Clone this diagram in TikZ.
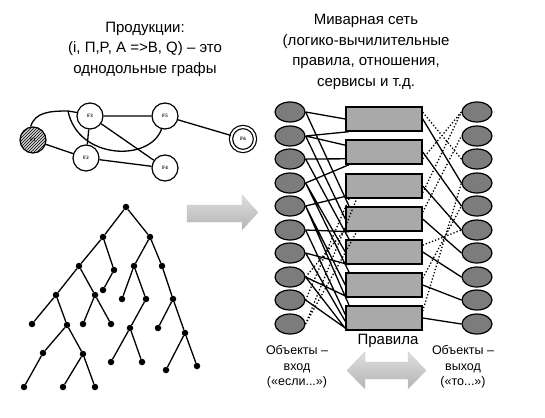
\documentclass[tikz,border=0pt]{standalone}
\usepackage{fontspec}
\setmainfont{Liberation Sans}
\newfontfamily\flabel{Liberation Serif}
\usepackage{tikz}
\usetikzlibrary{calc,shapes.geometric,patterns,positioning}

\definecolor{objgray}{HTML}{7C7C7C}
\definecolor{rulegray}{HTML}{A9A9A9}

\begin{document}
\begin{tikzpicture}[x=1pt,y=-1pt]
    \tikzset{vert/.style = {circle, draw, line width=1.2pt, fill=white,
        minimum size=26pt, inner sep=0pt,
        font=\flabel\bfseries\fontsize{5}{6}\selectfont},
      dot/.style = {circle, fill=black, inner sep=0pt, minimum size=6.5pt},
      obj/.style = {ellipse, draw, line width=1.2pt, fill=objgray,
        minimum width=30pt, minimum height=20pt, inner sep=0pt},
      rulebox/.style = {rectangle, draw, line width=1.4pt, fill=rulegray,
        minimum width=76pt, minimum height=24pt, inner sep=0pt},
      link/.style = {line width=1.3pt},
      dlink/.style = {line width=1.3pt, dotted},
      title/.style = {align=center, font=\fontsize{15}{20.5}\selectfont},
      caption/.style = {align=center, font=\fontsize{12.5}{15.5}\selectfont}}
    \useasboundingbox (0,0) rectangle (545,417);

    % titles
    \node[title] (prodtitle) at (145,49) {Продукции:\\(i, П,P, A =>B, Q) -- это\\однодольные графы};
    \node[title] (mivtitle) at (366,52) {Миварная сеть\\(логико-вычилительные\\правила, отношения,\\сервисы и т.д.};

    % graph of productions
    \node[vert, preaction={fill=gray!35}, pattern=north east lines] (F1) at (33,140) {F1};
    \node[vert] (F3) at (90,116) {F3};
    \node[vert] (F5) at (165,116) {F5};
    \node[vert] (F2) at (86,158) {F2};
    \node[vert] (F4) at (165,168) {F4};
    \node[vert, double, double distance=2pt, minimum size=24pt] (F6) at (243,139) {F6};
    \coordinate (fork) at (68,111);
    \draw[link] (F3) -- (F5) (F5) -- (F6) (F1) -- (F2) (F3) -- (F2) (F3) -- (F4) (F2) -- (F4);
    \draw[link] (F1.100) .. controls (35,112) and (50,111) .. (fork) -- (F3.165);
    \draw[link] (fork) .. controls (78,160) and (150,162) .. (F5.255);

    % tree
    \node[dot] (t) at (126,207) {};
    \node[dot] (ta) at (103,237) {};
    \node[dot] (tb) at (150,237) {};
    \node[dot] (taa) at (79,266) {};
    \node[dot] (tab) at (114,270) {};
    \node[dot] (taba) at (103,290) {};
    \node[dot] (taaa) at (56,295) {};
    \node[dot] (taab) at (95,295) {};
    \node[dot] (taaaa) at (32,324) {};
    \node[dot] (taaab) at (67,325) {};
    \node[dot] (taaba) at (83,324) {};
    \node[dot] (taabb) at (111,324) {};
    \node[dot] (taaaba) at (43,353) {};
    \node[dot] (taaabb) at (83,354) {};
    \node[dot] (taaabaa) at (24,387) {};
    \node[dot] (taaabba) at (63,387) {};
    \node[dot] (taaabbb) at (95,387) {};
    \node[dot] (tba) at (134,266) {};
    \node[dot] (tbb) at (162,266) {};
    \node[dot] (tbaa) at (122,299) {};
    \node[dot] (tbab) at (146,299) {};
    \node[dot] (tbaba) at (130,328) {};
    \node[dot] (tbabaa) at (111,362) {};
    \node[dot] (tbabab) at (142,362) {};
    \node[dot] (tbba) at (173,299) {};
    \node[dot] (tbbaa) at (158,328) {};
    \node[dot] (tbbab) at (185,333) {};
    \node[dot] (tbbaba) at (166,370) {};
    \node[dot] (tbbabb) at (197,366) {};
    \draw[link] (t) -- (ta) (t) -- (tb) (ta) -- (taa) (ta) -- (tab) (tab) -- (taba)
      (taa) -- (taaa) (taa) -- (taab) (taaa) -- (taaaa) (taaa) -- (taaab)
      (taab) -- (taaba) (taab) -- (taabb) (taaab) -- (taaaba) (taaab) -- (taaabb)
      (taaaba) -- (taaabaa) (taaabb) -- (taaabba) (taaabb) -- (taaabbb);
    \draw[link] (tb) -- (tba) (tb) -- (tbb) (tba) -- (tbaa) (tba) -- (tbab)
      (tbab) -- (tbaba) (tbaba) -- (tbabaa) (tbaba) -- (tbabab)
      (tbb) -- (tbba) (tbba) -- (tbbaa) (tbba) -- (tbbab)
      (tbbab) -- (tbbaba) (tbbab) -- (tbbabb);

    % arrow between the parts
    \shade[top color=gray!25, bottom color=gray!60, draw=gray!40]
      (187,205) -- (242,205) -- (242,195) -- (258,212.5) -- (242,230) -- (242,222) -- (187,222) -- cycle;

    % mivar net
    \node[obj] (in1) at (290,112) {};
    \node[obj] (in2) at (290,136) {};
    \node[obj] (in3) at (290,159) {};
    \node[obj] (in4) at (290,183) {};
    \node[obj] (in5) at (290,206) {};
    \node[obj] (in6) at (290,230) {};
    \node[obj] (in7) at (290,253) {};
    \node[obj] (in8) at (290,277) {};
    \node[obj] (in9) at (290,300) {};
    \node[obj] (in10) at (290,324) {};
    \node[rulebox] (rule1) at (384,119) {};
    \node[rulebox] (rule2) at (384,152) {};
    \node[rulebox] (rule3) at (384,186) {};
    \node[rulebox] (rule4) at (384,219) {};
    \node[rulebox] (rule5) at (384,252) {};
    \node[rulebox] (rule6) at (384,285) {};
    \node[rulebox] (rule7) at (384,318) {};
    \node[obj] (out1) at (477,112) {};
    \node[obj] (out2) at (477,136) {};
    \node[obj] (out3) at (477,159) {};
    \node[obj] (out4) at (477,183) {};
    \node[obj] (out5) at (477,206) {};
    \node[obj] (out6) at (477,230) {};
    \node[obj] (out7) at (477,253) {};
    \node[obj] (out8) at (477,277) {};
    \node[obj] (out9) at (477,300) {};
    \node[obj] (out10) at (477,324) {};

    % if-part
    \draw[link] (in1.east) -- (rule1.west) (in1.east) -- (rule4.160)
      (in2.east) -- (rule1.200) (in2.east) -- (rule2.170) (in2.east) -- (rule4.180)
      (in3.east) -- (rule2.190) (in3.east) -- (rule5.160)
      (in4.east) -- (rule2.200) (in4.east) -- (rule5.180) (in4.east) -- (rule6.160)
      (in5.east) -- (rule3.195) (in5.east) -- (rule6.180) (in5.east) -- (rule7.160)
      (in6.east) -- (rule4.200) (in6.east) -- (rule7.175)
      (in7.east) -- (rule5.200) (in7.east) -- (rule7.185)
      (in8.east) -- (rule6.200) (in8.east) -- (rule7.195)
      (in9.east) -- (rule7.200);
    \draw[dlink] (in8.east) -- (rule4.195) (in9.east) -- (rule3.200)
      (in10.east) -- (rule3.205) (in10.east) -- (rule4.205);

    % then-part
    \draw[link] (rule1.east) -- (out4.west) (rule2.east) -- (out5.west)
      (rule3.east) -- (out6.west) (rule4.east) -- (out7.west)
      (rule5.east) -- (out8.west) (rule6.east) -- (out9.west)
      (rule7.east) -- (out10.west);
    \draw[dlink] (rule1.10) -- (out3.west) (rule2.350) -- (out1.west)
      (rule3.350) -- (out1.west) (rule4.10) -- (out2.west)
      (rule5.10) -- (out6.west) (rule6.10) -- (out5.west)
      (rule7.10) -- (out4.west);

    % captions
    \node[caption] (inlabel) at (297,367) {Объекты --\\вход\\(«если...»)};
    \node[caption] (outlabel) at (463,367) {Объекты --\\выход\\(«то...»)};
    \node[font=\fontsize{15}{17}\selectfont] (rulelabel) at (388,341) {Правила};
    \shade[top color=gray!25, bottom color=gray!60, draw=gray!40]
      (347,370.5) -- (365,352) -- (365,362) -- (408,362) -- (408,352) -- (426,370.5)
      -- (408,389) -- (408,379) -- (365,379) -- (365,389) -- cycle;
  \end{tikzpicture}
\end{document}
